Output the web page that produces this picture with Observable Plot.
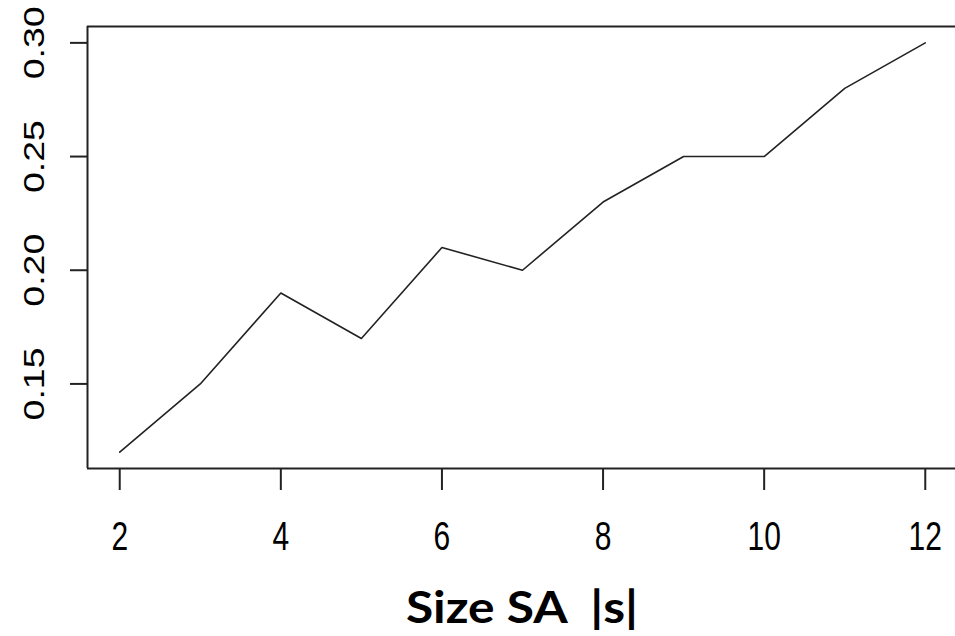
<!DOCTYPE html>
<html>
<head>
<meta charset="utf-8">
<script src="https://cdn.jsdelivr.net/npm/d3@7"></script>
<script src="https://cdn.jsdelivr.net/npm/@observablehq/plot@0.6"></script>
<style>
  html, body { margin: 0; padding: 0; background: #fff; overflow: hidden; }
  #wrap { position: relative; width: 955px; height: 636px; overflow: hidden; }
  #title { position: absolute; left: 522px; top: 584px; transform: translateX(-50%) scaleX(1.13);
    font-family: Lato, "Open Sans", sans-serif; font-weight: bold; font-size: 44px;
    line-height: 1; white-space: pre; color: #000; }
</style>
</head>
<body>
<div id="wrap"></div>
<script>
const sizes = [2, 3, 4, 5, 6, 7, 8, 9, 10, 11, 12];
const values = [0.12, 0.15, 0.19, 0.17, 0.21, 0.20, 0.23, 0.25, 0.25, 0.28, 0.30];
const xTicks = [2, 4, 6, 8, 10, 12];
const xTickLabels = ["2", "4", "6", "8", "10", "12"];
const yTicks = [0.15, 0.20, 0.25, 0.30];
const yTickLabels = ["0.15", "0.20", "0.25", "0.30"];
const titleText = "Size SA  |s|";

const data = sizes.map((s, i) => ({size: s, value: values[i]}));
const xDom = [1.6, 12.4];
const yDom = [0.1128, 0.3072];

const chart = Plot.plot({
  width: 955,
  height: 560,
  marginLeft: 87,
  marginRight: -2,
  marginTop: 26,
  marginBottom: 92,
  style: {fontFamily: "'Liberation Sans', Arial, sans-serif", background: "#fff", color: "#000", overflow: "hidden"},
  x: {domain: xDom},
  y: {domain: yDom},
  marks: [
    Plot.axisX({ticks: xTicks, tickSize: 22, tickFormat: () => "", label: null, stroke: "#222", strokeWidth: 2}),
    Plot.axisY({ticks: yTicks, tickSize: 17, tickFormat: () => "", label: null, stroke: "#222", strokeWidth: 2}),
    Plot.text(xTicks, {x: d => d, frameAnchor: "bottom", dy: 53, textAnchor: "middle", lineAnchor: "top", text: (d, i) => xTickLabels[i], fontSize: 30, fill: "#000", className: "xlab"}),
    Plot.text(yTicks, {y: d => d, frameAnchor: "left", dx: -53, rotate: -90, textAnchor: "middle", lineAnchor: "middle", text: (d, i) => yTickLabels[i], fontSize: 30, fill: "#000", className: "ylab"}),
    Plot.ruleX([xDom[0]], {y1: yDom[0], y2: yDom[1], stroke: "#222", strokeWidth: 2}),
    Plot.ruleY([yDom[0], yDom[1]], {x1: xDom[0], x2: xDom[1], stroke: "#222", strokeWidth: 2}),
    Plot.line(data, {x: "size", y: "value", stroke: "#222", strokeWidth: 1.6})
  ]
});

function stretch(text, sx, sy) {
  const t = text.getAttribute("transform") || "";
  let x = 0, y = 0;
  const xa = text.getAttribute("x"), ya = text.getAttribute("y");
  if (xa != null && !/em$/.test(xa)) { x = +xa; text.removeAttribute("x"); }
  if (ya != null && !/em$/.test(ya)) { y = +ya; text.removeAttribute("y"); }
  text.setAttribute("transform", `${t} translate(${x},${y}) scale(${sx},${sy})`);
}
d3.select(chart).selectAll('.xlab text').each(function() { stretch(this, 1, 1.33); });
d3.select(chart).selectAll('.ylab text').each(function() { stretch(this, 1.25, 1); });

const wrap = document.getElementById("wrap");
wrap.appendChild(chart);
const title = document.createElement("div");
title.id = "title";
title.textContent = titleText;
wrap.appendChild(title);
</script>
</body>
</html>
